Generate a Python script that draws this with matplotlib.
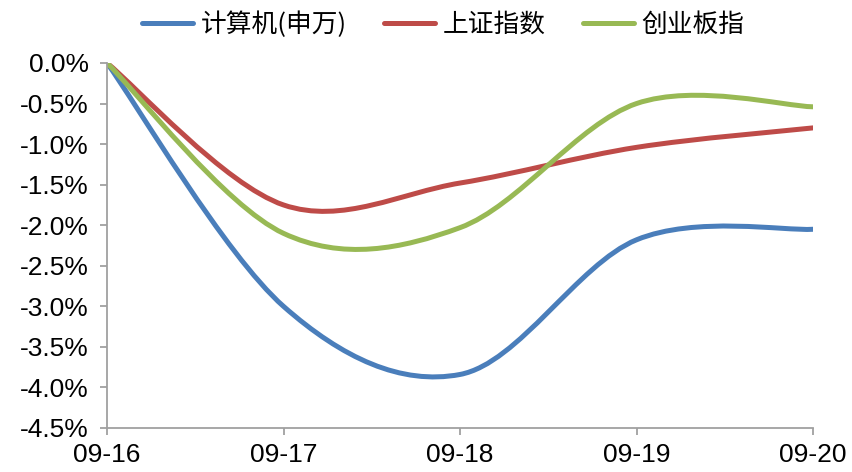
import matplotlib
matplotlib.use("Agg")
import matplotlib.pyplot as plt
from matplotlib.path import Path
from matplotlib.patches import PathPatch
from matplotlib.lines import Line2D
import numpy as np

plt.rcParams['font.family'] = ['Liberation Sans', 'Noto Sans CJK SC', 'DejaVu Sans']

dates = ["09-16", "09-17", "09-18", "09-19", "09-20"]
computer = [0.0, -3.00, -3.84, -2.18, -2.05]
sse = [0.0, -1.75, -1.48, -1.04, -0.80]
chinext = [0.0, -2.10, -2.03, -0.50, -0.54]

series_names = ["计算机(申万)", "上证指数", "创业板指"]
colors = ["#4A7EBB", "#BE4B48", "#98B954"]


def smooth_path(xs, ys):
    pts = np.column_stack([xs, ys]).astype(float)
    n = len(pts)
    verts = [pts[0]]
    codes = [Path.MOVETO]
    for i in range(n - 1):
        p0 = pts[i - 1] if i > 0 else pts[i]
        p1 = pts[i]
        p2 = pts[i + 1]
        p3 = pts[i + 2] if i + 2 < n else pts[i + 1]
        c1 = p1 + (p2 - p0) / 6.0
        c2 = p2 - (p3 - p1) / 6.0
        verts += [c1, c2, p2]
        codes += [Path.CURVE4] * 3
    return Path(verts, codes)


fig = plt.figure(figsize=(8.52, 4.72), dpi=100)
ax = fig.add_axes([107 / 852, 1 - 428 / 472, (813 - 107) / 852, (428 - 63) / 472])

x = np.arange(len(dates))
handles = []
for vals, name, c in zip([computer, sse, chinext], series_names, colors):
    patch = PathPatch(smooth_path(x, vals), facecolor='none', edgecolor=c,
                      lw=3.6, capstyle='round', joinstyle='round')
    ax.add_patch(patch)
    handles.append(Line2D([], [], color=c, lw=3.6, solid_capstyle='round', label=name))

ax.set_xlim(0, len(dates) - 1)
ax.set_ylim(-4.5, 0.0)
ax.set_xticks(x)
ax.set_xticklabels(dates)
yt = np.arange(-4.5, 0.01, 0.5)
ax.set_yticks(yt)
ax.set_yticklabels([f"{v:.1f}%" for v in yt])

for s in ["top", "right"]:
    ax.spines[s].set_visible(False)
for s in ["left", "bottom"]:
    ax.spines[s].set_color("#A0A0A0")
    ax.spines[s].set_linewidth(1.3)
ax.tick_params(axis='both', colors="#A0A0A0", width=1.3, length=5, labelsize=19,
               labelcolor="black")
ax.tick_params(axis='x', pad=6)
ax.tick_params(axis='y', pad=8)

leg = fig.legend(handles=handles, loc='upper center', bbox_to_anchor=(443 / 852, 1.025),
                 ncol=3, frameon=False, handlelength=2.0, handletextpad=0.28,
                 columnspacing=1.45, prop={'family': ['Noto Sans CJK SC', 'DejaVu Sans'], 'size': 18.5})

fig.savefig("out.png", dpi=100)
